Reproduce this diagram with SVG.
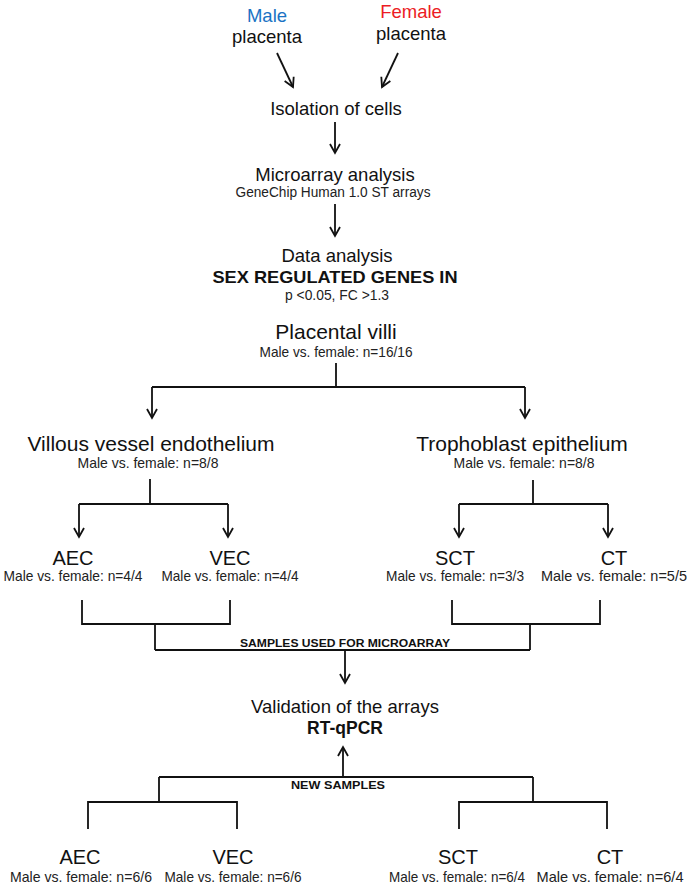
<svg xmlns="http://www.w3.org/2000/svg" width="687" height="887" viewBox="0 0 687 887">
<defs>
<marker id="arr" markerUnits="userSpaceOnUse" markerWidth="14" markerHeight="14" viewBox="-11 -7 14 14" refX="0" refY="0" orient="auto" overflow="visible">
<path d="M-9,-5 L0,0 L-9,5" fill="none" stroke="#111" stroke-width="1.8" stroke-linejoin="miter"/>
</marker>
</defs>
<style>
text{font-family:"Liberation Sans",Arial,sans-serif;fill:#111;text-anchor:middle}
.big{font-size:18.5px}
.lg{font-size:21px}
.cell{font-size:20px}
.sm{font-size:14.5px;fill:#222}
.bold{font-weight:bold}
.cap{font-size:11.5px;font-weight:bold}
.ln{fill:none;stroke:#111;stroke-width:1.8}
</style>
<rect width="687" height="887" fill="#fff"/>
<g id="connectors">
<path class="ln" d="M277,53 L293,87" marker-end="url(#arr)"/>
<path class="ln" d="M398,53 L382,87" marker-end="url(#arr)"/>
<path class="ln" d="M335,122 L335,153" marker-end="url(#arr)"/>
<path class="ln" d="M335,204 L335,236" marker-end="url(#arr)"/>
<path class="ln" d="M336,363 L336,387 M152,387 L525,387"/>
<path class="ln" d="M152,387 L152,418" marker-end="url(#arr)"/>
<path class="ln" d="M525,387 L525,418" marker-end="url(#arr)"/>
<path class="ln" d="M150,479 L150,504 M79,504 L228,504"/>
<path class="ln" d="M79,504 L79,537" marker-end="url(#arr)"/>
<path class="ln" d="M228,504 L228,537" marker-end="url(#arr)"/>
<path class="ln" d="M533,480 L533,504 M459,504 L608,504"/>
<path class="ln" d="M459,504 L459,537" marker-end="url(#arr)"/>
<path class="ln" d="M608,504 L608,537" marker-end="url(#arr)"/>
<path class="ln" d="M82,600 L82,624 L230,624 L230,600 M155,624 L155,650 M452,600 L452,624 L600,624 L600,600 M530,624 L530,650 M155,650 L530,650"/>
<path class="ln" d="M345,650 L345,683" marker-end="url(#arr)"/>
<path class="ln" d="M343,777 L343,747" marker-end="url(#arr)"/>
<path class="ln" d="M159,777 L533,777 M159,777 L159,802 M533,777 L533,802 M88,829 L88,802 L237,802 L237,829 M459,829 L459,802 L607,802 L607,829"/>
</g>
<g id="male">
<text class="big" x="267" y="22" style="fill:#1a73c4">Male</text>
<text class="big" x="267" y="43">placenta</text>
</g>
<g id="female">
<text class="big" x="411" y="18" style="fill:#ec1c24">Female</text>
<text class="big" x="411" y="40">placenta</text>
</g>
<g id="isolation">
<text class="big" x="336" y="115">Isolation of cells</text>
</g>
<g id="microarray">
<text class="big" x="335" y="181">Microarray analysis</text>
<text class="sm" x="333" y="197" textLength="195" lengthAdjust="spacingAndGlyphs" style="font-size:14px">GeneChip Human  1.0 ST arrays</text>
</g>
<g id="data">
<text class="big" x="337" y="262">Data analysis</text>
<text class="bold" x="335" y="283" textLength="245" lengthAdjust="spacingAndGlyphs" style="font-size:17px">SEX REGULATED  GENES IN</text>
<text class="sm" x="337" y="300" textLength="104" lengthAdjust="spacingAndGlyphs" style="font-size:14px">p &lt;0.05, FC &gt;1.3</text>
</g>
<g id="villi">
<text class="lg" x="336" y="339">Placental villi</text>
<text class="sm" x="336" y="357" textLength="153" lengthAdjust="spacingAndGlyphs">Male vs. female: n=16/16</text>
</g>
<g id="villous">
<text class="lg" x="151" y="451">Villous vessel endothelium</text>
<text class="sm" x="148" y="468" textLength="141" lengthAdjust="spacingAndGlyphs">Male vs. female: n=8/8</text>
</g>
<g id="trophoblast">
<text class="lg" x="522" y="451">Trophoblast epithelium</text>
<text class="sm" x="524" y="468" textLength="141" lengthAdjust="spacingAndGlyphs">Male vs. female: n=8/8</text>
</g>
<g id="aec1">
<text class="cell" x="73" y="565">AEC</text>
<text class="sm" x="73" y="581" textLength="139" lengthAdjust="spacingAndGlyphs">Male vs. female: n=4/4</text>
</g>
<g id="vec1">
<text class="cell" x="230" y="565">VEC</text>
<text class="sm" x="230" y="581" textLength="137" lengthAdjust="spacingAndGlyphs">Male vs. female: n=4/4</text>
</g>
<g id="sct1">
<text class="cell" x="455" y="565">SCT</text>
<text class="sm" x="455" y="581" textLength="138" lengthAdjust="spacingAndGlyphs">Male vs. female: n=3/3</text>
</g>
<g id="ct1">
<text class="cell" x="614" y="565">CT</text>
<text class="sm" x="614" y="581" textLength="146" lengthAdjust="spacingAndGlyphs">Male vs. female: n=5/5</text>
</g>
<g id="samples-microarray">
<text class="cap" x="345" y="647" textLength="210" lengthAdjust="spacingAndGlyphs">SAMPLES USED FOR MICROARRAY</text>
</g>
<g id="validation">
<text class="big" x="345" y="713">Validation of the arrays</text>
<text class="bold" x="345" y="734" style="font-size:17.5px">RT-qPCR</text>
</g>
<g id="new-samples">
<text class="cap" x="338" y="789" textLength="94" lengthAdjust="spacingAndGlyphs">NEW SAMPLES</text>
</g>
<g id="aec2">
<text class="cell" x="80" y="864">AEC</text>
<text class="sm" x="81" y="882" textLength="142" lengthAdjust="spacingAndGlyphs">Male vs. female: n=6/6</text>
</g>
<g id="vec2">
<text class="cell" x="233" y="864">VEC</text>
<text class="sm" x="233" y="882" textLength="137" lengthAdjust="spacingAndGlyphs">Male vs. female: n=6/6</text>
</g>
<g id="sct2">
<text class="cell" x="458" y="864">SCT</text>
<text class="sm" x="457" y="882" textLength="136" lengthAdjust="spacingAndGlyphs">Male vs. female: n=6/4</text>
</g>
<g id="ct2">
<text class="cell" x="610" y="864">CT</text>
<text class="sm" x="610" y="882" textLength="147" lengthAdjust="spacingAndGlyphs">Male vs. female: n=6/4</text>
</g>
</svg>
